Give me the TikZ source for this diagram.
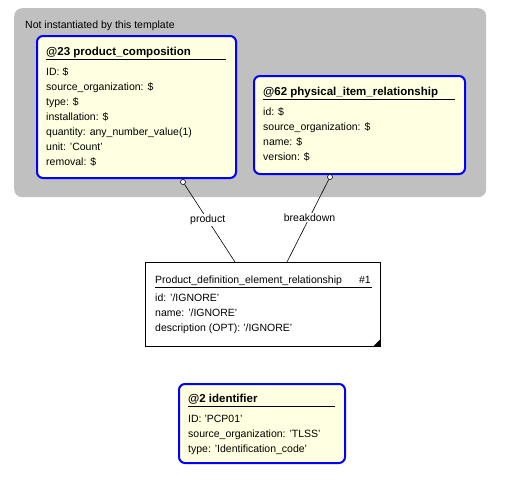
\documentclass[tikz,border=0pt]{standalone}
\usepackage{fontspec}
\setmainfont{Liberation Sans}
\usetikzlibrary{positioning}

\definecolor{tplgray}{RGB}{192,192,192}
\definecolor{entyellow}{RGB}{255,255,225}
\definecolor{entblue}{RGB}{0,0,255}

\tikzset{
  entity/.style={draw=entblue, line width=2pt, fill=entyellow, rounded corners=6pt, inner sep=0, anchor=north west},
  instance/.style={draw, fill=white, line width=0.8pt, inner sep=0, anchor=north west},
  attr/.style={anchor=base west, inner sep=0, font=\fontsize{10.5}{13}\selectfont},
  title/.style={attr, font=\fontsize{11.5}{13}\selectfont\bfseries},
  role/.style={fill=white, inner sep=1pt, font=\fontsize{10.5}{13}\selectfont},
  endpt/.style={circle, draw, fill=white, line width=0.6pt, inner sep=0, minimum size=5pt}
}

\begin{document}
\begin{tikzpicture}[x=1pt, y=-1pt]
  \useasboundingbox (0,0) rectangle (519,491);

  % template area
  \node[fill=tplgray, rounded corners=8pt, inner sep=0, anchor=north west,
        minimum width=472, minimum height=189] (tpl) at (14,8) {};
  \node[attr] (tpl-t) at (25,28) {Not instantiated by this template};

  % @23 product_composition
  \node[entity, minimum width=199, minimum height=142] (pc) at (36,35) {};
  \node[title] (pc-t) at (46,55) {@23 product\_composition};
  \draw[line width=1pt] (46,59) -- (226,59);
  \foreach \t [count=\i] in {ID: \$, source\_organization: \$, type: \$, installation: \$,
      quantity: any\_number\_value(1), unit: 'Count', removal: \$}
    \node[attr] (pc-\i) at (46,60+15*\i) {\t};

  % @62 physical_item_relationship
  \node[entity, minimum width=211, minimum height=98] (pir) at (253,75) {};
  \node[title] (pir-t) at (263,95) {@62 physical\_item\_relationship};
  \draw[line width=1pt] (263,99) -- (455,99);
  \foreach \t [count=\i] in {id: \$, source\_organization: \$, name: \$, version: \$}
    \node[attr] (pir-\i) at (263,100+15*\i) {\t};

  % #1 instance
  \node[instance, minimum width=235, minimum height=84] (pder) at (145,262) {};
  \node[attr] (pder-t) at (155,283) {Product\_definition\_element\_relationship};
  \node[attr, anchor=base east] (pder-n) at (371,283) {\#1};
  \draw[line width=0.8pt] (155,287) -- (372,287);
  \foreach \t [count=\i] in {id: '/IGNORE', name: '/IGNORE', description (OPT): '/IGNORE'}
    \node[attr] (pder-\i) at (155,286+15*\i) {\t};
  \fill (pder.south east) -- ++(-8,0) -- ++(8,-8) -- cycle;

  % @2 identifier
  \node[entity, minimum width=166, minimum height=79] (idf) at (178,383) {};
  \node[title] (idf-t) at (188,402) {@2 identifier};
  \draw[line width=1pt] (188,406) -- (335,406);
  \foreach \t [count=\i] in {ID: 'PCP01', source\_organization: 'TLSS', type: 'Identification\_code'}
    \node[attr] (idf-\i) at (188,407+15*\i) {\t};

  % roles
  \node[endpt] (pc-end) at (183,182) {};
  \node[endpt] (pir-end) at (330,177) {};
  \coordinate (pder-a) at (235,262);
  \coordinate (pder-b) at (287,262);
  \draw[line width=0.6pt] (pc-end) -- node[role, pos=0.46] (pc-role) {product} (pder-a);
  \draw[line width=0.6pt] (pir-end) -- node[role, pos=0.46] (pir-role) {breakdown} (pder-b);
\end{tikzpicture}
\end{document}
